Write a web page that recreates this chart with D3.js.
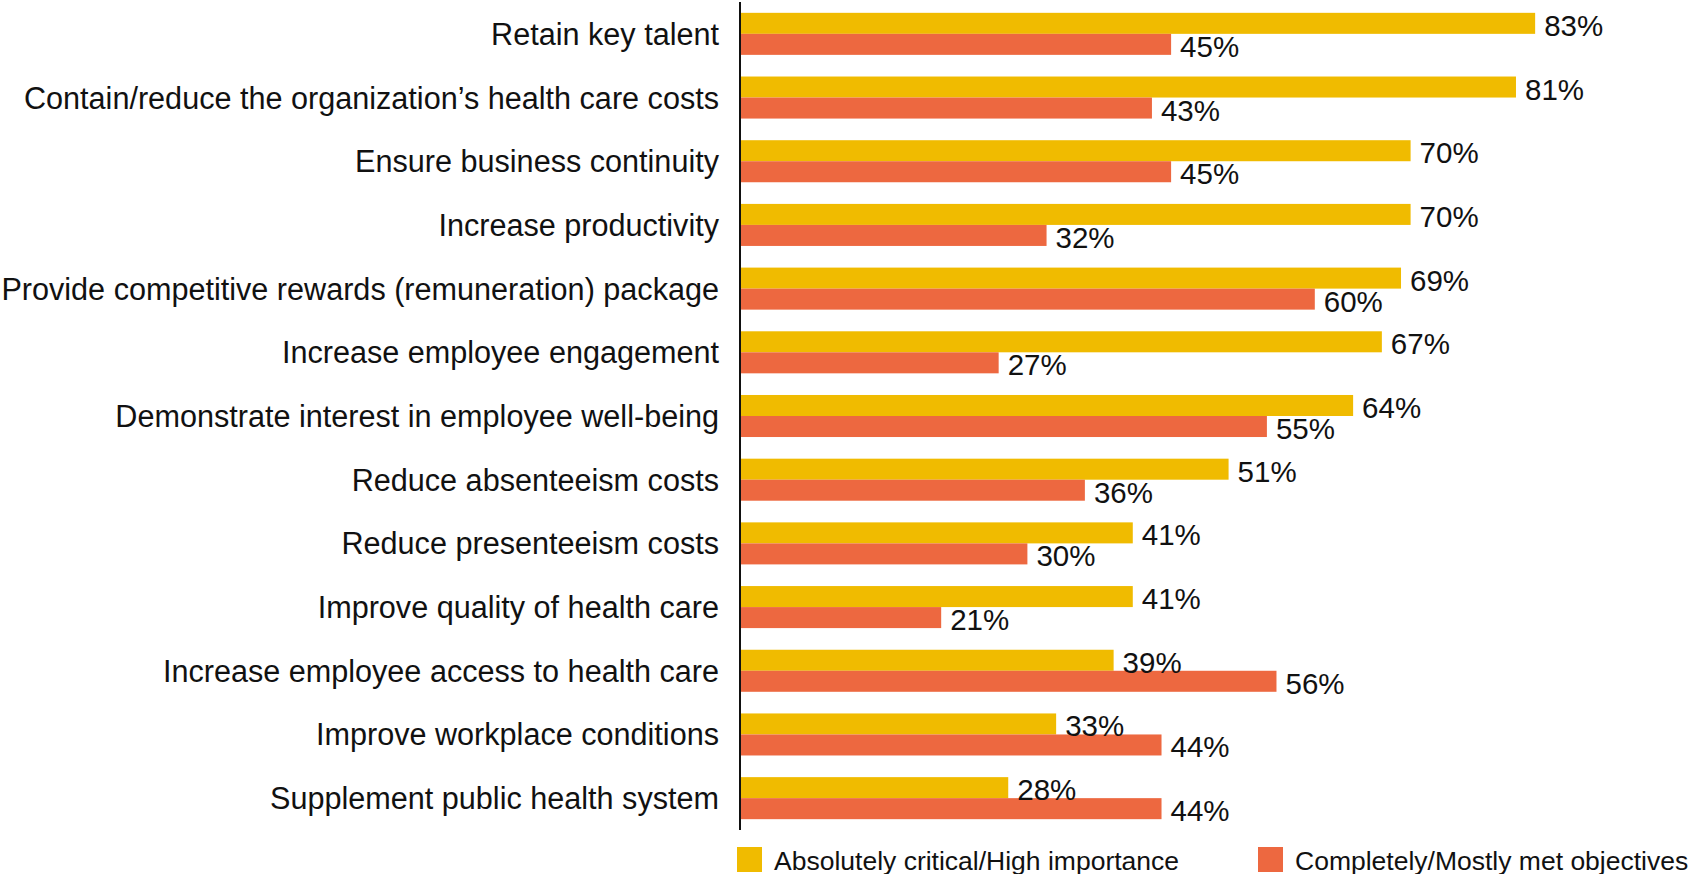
<!DOCTYPE html>
<html>
<head>
<meta charset="utf-8">
<script src="https://cdn.jsdelivr.net/npm/d3@7"></script>
<style>
  html, body { margin: 0; padding: 0; background: #fff; }
  svg { display: block; }
  text { font-family: "Liberation Sans", Arial, sans-serif; fill: #111; }
</style>
</head>
<body>
<svg id="chart" width="1690" height="874"></svg>
<script>
// Objectives of health programmes
const categories = [
  "Retain key talent",
  "Contain/reduce the organization\u2019s health care costs",
  "Ensure business continuity",
  "Increase productivity",
  "Provide competitive rewards (remuneration) package",
  "Increase employee engagement",
  "Demonstrate interest in employee well-being",
  "Reduce absenteeism costs",
  "Reduce presenteeism costs",
  "Improve quality of health care",
  "Increase employee access to health care",
  "Improve workplace conditions",
  "Supplement public health system"
];
const seriesNames = ["Absolutely critical/High importance", "Completely/Mostly met objectives"];
const importance = [83, 81, 70, 70, 69, 67, 64, 51, 41, 41, 39, 33, 28];
const metObjectives = [45, 43, 45, 32, 60, 27, 55, 36, 30, 21, 56, 44, 44];
const colors = ["#F0BB00", "#ED6840"];

const rows = categories.map((c, i) => ({ cat: c, values: [importance[i], metObjectives[i]] }));

const svg = d3.select("#chart");

const x = d3.scaleLinear().domain([0, 100]).range([740, 1698]);
const y = d3.scaleBand().domain(categories).range([2, 830]).paddingInner(0.34).paddingOuter(0.17);
const ySub = d3.scaleBand().domain([0, 1]).range([0, y.bandwidth()]);

const groups = svg.append("g").selectAll("g")
  .data(rows).join("g")
  .attr("transform", d => `translate(0,${y(d.cat)})`);

groups.selectAll("rect")
  .data(d => d.values.map((v, k) => ({ v, k })))
  .join("rect")
  .attr("x", x(0))
  .attr("y", d => ySub(d.k))
  .attr("width", d => x(d.v) - x(0))
  .attr("height", ySub.bandwidth())
  .attr("fill", d => colors[d.k]);

groups.selectAll("text.val")
  .data(d => d.values.map((v, k) => ({ v, k })))
  .join("text")
  .attr("class", "val")
  .attr("x", d => x(d.v) + 9)
  .attr("y", d => ySub(d.k) + ySub.bandwidth() / 2 + 2)
  .attr("dominant-baseline", "central")
  .style("font-size", "29.5px")
  .text(d => d.v + "%");

// Category axis on the left
const axis = svg.append("g").attr("transform", `translate(${x(0)},0)`);
axis.append("line")
  .attr("x1", 0).attr("x2", 0)
  .attr("y1", 2).attr("y2", 830)
  .attr("stroke", "#111").attr("stroke-width", 2);

svg.append("g").selectAll("text")
  .data(categories).join("text")
  .attr("x", 719)
  .attr("y", d => y(d) + y.bandwidth() / 2)
  .attr("text-anchor", "end")
  .attr("dominant-baseline", "central")
  .style("font-size", "30.6px")
  .text(d => d);

// Legend
const legendX = [737, 1258];
const legend = svg.append("g").selectAll("g")
  .data(seriesNames).join("g")
  .attr("transform", (d, i) => `translate(${legendX[i]},847)`);
legend.append("rect")
  .attr("width", 25).attr("height", 25)
  .attr("fill", (d, i) => colors[i]);
legend.append("text")
  .attr("x", 37).attr("y", 13.5)
  .attr("dominant-baseline", "central")
  .style("font-size", "26.5px")
  .text(d => d);
</script>
</body>
</html>
